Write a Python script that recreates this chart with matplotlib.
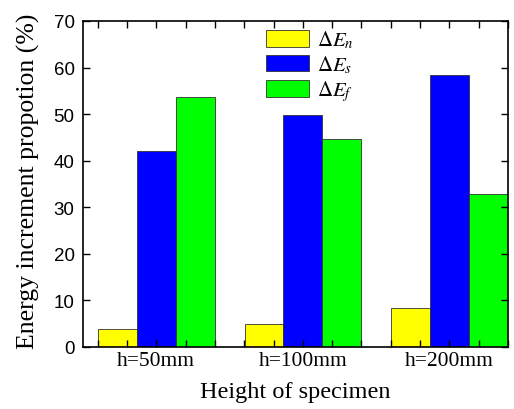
import matplotlib
matplotlib.use("Agg")
import matplotlib.pyplot as plt
import numpy as np

categories = ["h=50mm", "h=100mm", "h=200mm"]
series_names = [r"$\Delta E_n$", r"$\Delta E_s$", r"$\Delta E_f$"]
dEn = [3.8, 4.9, 8.3]
dEs = [42.1, 49.9, 58.4]
dEf = [53.7, 44.7, 32.8]
colors = ["#FFFF00", "#0000FF", "#00FF00"]

plt.rcParams["font.family"] = ["Liberation Serif", "DejaVu Serif"]
plt.rcParams["mathtext.fontset"] = "stix"

fig = plt.figure(figsize=(5.14, 4.10), dpi=100)
ax = fig.add_axes([83/514, 62/410, 425/514, 326/410])

x = np.arange(1, len(categories) + 1)
w = 0.265
for i, (vals, c, name) in enumerate(zip([dEn, dEs, dEf], colors, series_names)):
    ax.bar(x + (i - 1) * w, vals, width=w, color=c, edgecolor="#333333",
           linewidth=0.6, label=name)

ax.set_xlim(0.5, 3.4)
ax.set_ylim(0, 70)
ax.set_yticks(np.arange(0, 71, 10))
ax.set_xticks(x)
ax.set_xticklabels(categories, fontsize=15.5)
minor = [v for v in np.round(np.arange(0.6, 3.41, 0.2), 2) if v not in (1.0, 2.0, 3.0)]
ax.set_xticks(minor, minor=True)
for lab in ax.get_yticklabels():
    lab.set_fontfamily("Liberation Sans")
    lab.set_fontsize(13.5)
ax.tick_params(axis="both", which="both", direction="in", top=True, right=True,
               length=5, width=1)
ax.tick_params(axis="x", pad=3)
ax.tick_params(axis="y", pad=6)
for s in ax.spines.values():
    s.set_linewidth(1.2)

ax.set_ylabel("Energy increment propotion (%)", fontsize=18.5)
ax.yaxis.label.set_verticalalignment("center")
ax.yaxis.set_label_coords(-0.128, 0.51)
ax.set_xlabel("Height of specimen", fontsize=17.5)
ax.xaxis.label.set_verticalalignment("center")
ax.xaxis.set_label_coords(0.5, -0.135)

ax.legend(loc="upper left", bbox_to_anchor=(0.4306, 1.0 - 8/326), frameon=False,
          fontsize=15, handlelength=2.07, handleheight=0.85,
          labelspacing=0.14, handletextpad=0.38, borderpad=0, borderaxespad=0)

fig.savefig("out.png", dpi=100)
